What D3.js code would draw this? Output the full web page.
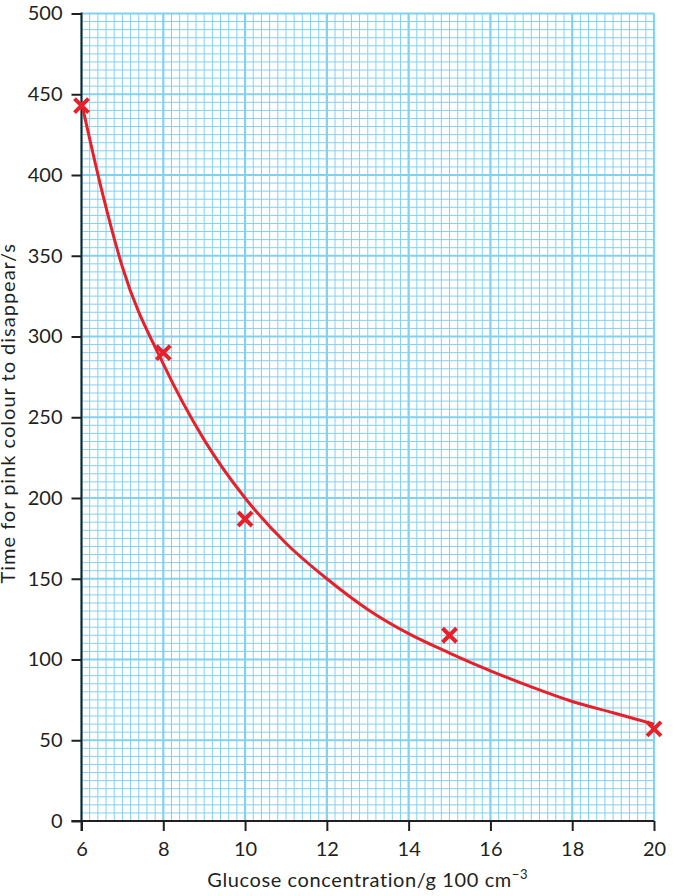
<!DOCTYPE html>
<html>
<head>
<meta charset="utf-8">
<script src="https://cdn.jsdelivr.net/npm/d3@7"></script>
<style>
  body { margin: 0; background: #fff; }
  svg text { font-family: "Gill Sans", Lato, sans-serif; fill: #231f20; }
</style>
</head>
<body>
<div id="chart"></div>
<script>
// Measured points (glucose concentration vs time)
const concentration = [6, 8, 10, 15, 20];
const timeSeconds = [443, 290, 187, 115, 57];

// Hand-drawn best-fit curve
const curveX = [6, 6.5, 7, 8, 9, 10, 11, 12, 13, 14, 15, 16, 17, 18, 19, 20];
const curveY = [445, 390, 343, 283, 236, 200, 172, 150, 131, 116, 104, 93, 83, 74, 67, 60];

const xTicks = [6, 8, 10, 12, 14, 16, 18, 20];
const yTicks = [0, 50, 100, 150, 200, 250, 300, 350, 400, 450, 500];

const width = 674, height = 896;
const margin = { top: 13.5, right: 20, bottom: 75, left: 81.5 };
const innerW = width - margin.left - margin.right;
const innerH = height - margin.top - margin.bottom;

const svg = d3.select("#chart").append("svg")
  .attr("width", width)
  .attr("height", height);

const chart = svg.append("g")
  .attr("transform", `translate(${margin.left},${margin.top})`);

const xScale = d3.scaleLinear().domain([6, 20]).range([0, innerW]);
const yScale = d3.scaleLinear().domain([0, 500]).range([innerH, 0]);

// Graph paper grid: minor every 0.2 x / 5 y, major every 2 x / 50 y
const gridColor = "#80d2ef";
const grid = chart.append("g").attr("class", "grid");
const xMinor = d3.range(0, 71).map(i => 6 + i * 0.2);
const yMinor = d3.range(0, 101).map(i => i * 5);

grid.selectAll(".vline").data(xMinor).join("line")
  .attr("class", "vline")
  .attr("x1", d => xScale(d)).attr("x2", d => xScale(d))
  .attr("y1", 0).attr("y2", innerH)
  .attr("stroke", gridColor)
  .attr("stroke-width", (d, i) => i % 10 === 0 ? 2.2 : 1);

grid.selectAll(".hline").data(yMinor).join("line")
  .attr("class", "hline")
  .attr("x1", 0).attr("x2", innerW)
  .attr("y1", d => yScale(d)).attr("y2", d => yScale(d))
  .attr("stroke", gridColor)
  .attr("stroke-width", (d, i) => i % 10 === 0 ? 2.2 : 1);

// Axes
const xAxis = d3.axisBottom(xScale).tickValues(xTicks).tickSize(10).tickSizeOuter(0).tickPadding(11);
const yAxis = d3.axisLeft(yScale).tickValues(yTicks).tickSize(10).tickSizeOuter(0).tickPadding(9);

const xAxisG = chart.append("g")
  .attr("transform", `translate(0,${innerH})`)
  .call(xAxis);
const yAxisG = chart.append("g").call(yAxis);

[xAxisG, yAxisG].forEach(g => {
  g.selectAll("path, line").attr("stroke", "#231f20").attr("stroke-width", 2);
  g.selectAll("text").attr("font-size", 20).attr("fill", "#231f20")
    .style("font-family", "'Gill Sans', Lato, sans-serif");
});
xAxisG.select(".domain").remove();
yAxisG.select(".domain").remove();
chart.append("line")
  .attr("x1", -10).attr("x2", innerW)
  .attr("y1", yScale(0)).attr("y2", yScale(0))
  .attr("stroke", "#231f20").attr("stroke-width", 2);
chart.append("line")
  .attr("x1", xScale(6)).attr("x2", xScale(6))
  .attr("y1", yScale(500) - 1).attr("y2", innerH + 10)
  .attr("stroke", "#231f20").attr("stroke-width", 2);

// Axis titles
const xTitle = svg.append("text")
  .attr("x", margin.left + innerW / 2)
  .attr("y", 887)
  .attr("text-anchor", "middle")
  .attr("font-size", 20)
  .attr("letter-spacing", 0.6);
xTitle.append("tspan").text("Glucose concentration/g 100 cm");
xTitle.append("tspan").attr("dy", -8).attr("font-size", 13).text("\u22123");

svg.append("text")
  .attr("transform", `translate(15,${margin.top + innerH / 2 - 4}) rotate(-90)`)
  .attr("text-anchor", "middle")
  .attr("font-size", 20)
  .attr("letter-spacing", 1)
  .text("Time for pink colour to disappear/s");

// Best-fit curve
const curveData = curveX.map((x, i) => [x, curveY[i]]);
const line = d3.line()
  .x(d => xScale(d[0]))
  .y(d => yScale(d[1]))
  .curve(d3.curveMonotoneX);

chart.append("path")
  .datum(curveData)
  .attr("d", line)
  .attr("fill", "none")
  .attr("stroke", "#e8202a")
  .attr("stroke-width", 3);

// Plotted crosses
const r = 7;
chart.selectAll(".cross").data(concentration.map((x, i) => [x, timeSeconds[i]])).join("path")
  .attr("class", "cross")
  .attr("d", d => {
    const cx = xScale(d[0]), cy = yScale(d[1]);
    return `M${cx - r},${cy - r}L${cx + r},${cy + r}M${cx + r},${cy - r}L${cx - r},${cy + r}`;
  })
  .attr("stroke", "#e8202a")
  .attr("stroke-width", 4)
  .attr("fill", "none");
</script>
</body>
</html>
